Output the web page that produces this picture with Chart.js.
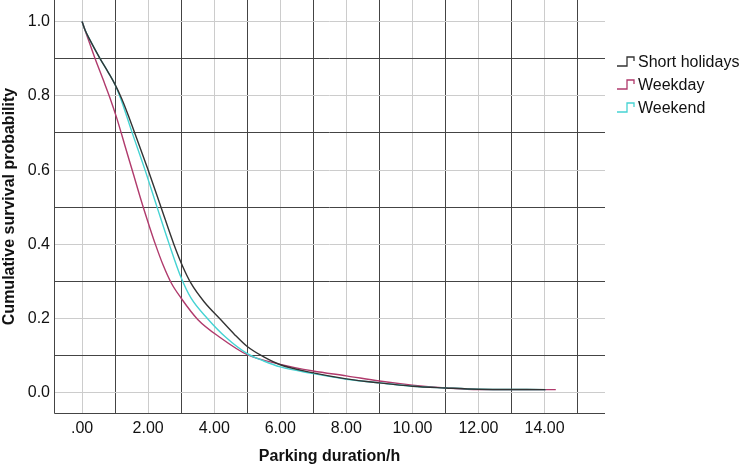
<!DOCTYPE html>
<html>
<head>
<meta charset="utf-8">
<script src="https://cdn.jsdelivr.net/npm/chart.js@4.4.1/dist/chart.umd.min.js"></script>
<style>
  html, body { margin: 0; padding: 0; background: #ffffff; }
  canvas { display: block; }
</style>
</head>
<body>
<canvas id="c" width="745" height="468"></canvas>
<script>
// ---- Data ----
const seriesNames = ['Short holidays', 'Weekday', 'Weekend'];

const shortHolidaysX = [0, 0.09, 0.24, 0.54, 0.80, 1.00, 1.20, 1.40, 1.58, 2.00, 2.39, 2.78, 3.05, 3.30, 3.70, 4.20, 4.60, 5.00, 5.50, 6.00, 7.00, 8.00, 9.00, 10.00, 11.00, 12.00, 14.03];
const shortHolidaysY = [1.0, 0.977, 0.950, 0.901, 0.862, 0.830, 0.792, 0.747, 0.703, 0.600, 0.500, 0.400, 0.340, 0.295, 0.245, 0.197, 0.159, 0.125, 0.097, 0.076, 0.054, 0.038, 0.027, 0.018, 0.0135, 0.010, 0.009];

const weekdayX = [0, 0.14, 0.39, 0.64, 0.85, 1.05, 1.30, 1.55, 1.81, 2.05, 2.22, 2.45, 2.70, 3.00, 3.50, 4.20, 5.00, 6.00, 7.00, 8.00, 9.00, 10.00, 11.00, 12.00, 14.34];
const weekdayY = [1.0, 0.964, 0.901, 0.843, 0.793, 0.740, 0.665, 0.590, 0.512, 0.445, 0.400, 0.345, 0.296, 0.255, 0.198, 0.148, 0.103, 0.077, 0.059, 0.046, 0.032, 0.021, 0.0135, 0.009, 0.009];

const weekendX = [0, 0.09, 0.24, 0.54, 0.80, 1.00, 1.20, 1.50, 1.90, 2.26, 2.64, 3.00, 3.30, 3.80, 4.35, 5.00, 5.50, 6.00, 7.00, 8.00, 9.00, 10.00, 11.00, 12.00, 14.03];
const weekendY = [1.0, 0.977, 0.950, 0.901, 0.862, 0.830, 0.785, 0.705, 0.602, 0.503, 0.400, 0.310, 0.255, 0.200, 0.150, 0.106, 0.086, 0.070, 0.052, 0.037, 0.027, 0.018, 0.0135, 0.010, 0.009];

const xTickValues = [0, 1, 2, 3, 4, 5, 6, 7, 8, 9, 10, 11, 12, 13, 14, 15];
const xTickLabels = ['.00', '', '2.00', '', '4.00', '', '6.00', '', '8.00', '', '10.00', '', '12.00', '', '14.00', ''];
const yTickValues = [0, 0.1, 0.2, 0.3, 0.4, 0.5, 0.6, 0.7, 0.8, 0.9, 1.0];
const yTickLabels = ['0.0', '', '0.2', '', '0.4', '', '0.6', '', '0.8', '', '1.0'];

const xTitle = 'Parking duration/h';
const yTitle = 'Cumulative survival probability';

// ---- Styles ----
const colors = ['#333333', '#b03a6c', '#45d3d3'];
const lightGrid = '#cccccc';
const darkGrid = '#444444';
const axisColor = '#444444';
const FONT = "'Liberation Sans', Arial, sans-serif";

function toPoints(xs, ys) { return xs.map((x, i) => ({ x: x, y: ys[i] })); }

const seriesX = [shortHolidaysX, weekdayX, weekendX];
const seriesY = [shortHolidaysY, weekdayY, weekendY];

const datasets = seriesNames.map((name, i) => ({
  label: name,
  data: toPoints(seriesX[i], seriesY[i]),
  borderColor: colors[i],
  backgroundColor: colors[i],
  borderWidth: 1.4,
  pointRadius: 0,
  showLine: true,
  fill: false,
  cubicInterpolationMode: 'monotone'
}));
datasets[0].order = 1;
datasets[1].order = 3;
datasets[2].order = 2;

function gridColorFor(values) {
  return (ctx) => {
    if (!ctx.tick) return 'rgba(0,0,0,0)';
    const idx = values.findIndex(v => Math.abs(v - ctx.tick.value) < 1e-6);
    if (idx < 0) return 'rgba(0,0,0,0)';
    return idx % 2 === 0 ? lightGrid : darkGrid;
  };
}

// left and bottom axis lines of the plot frame
const axisLines = {
  id: 'axisLines',
  beforeDatasetsDraw(chart) {
    const { ctx, chartArea } = chart;
    ctx.save();
    ctx.strokeStyle = axisColor;
    ctx.lineWidth = 1;
    ctx.beginPath();
    const l = Math.round(chartArea.left) + 0.5;
    const b = Math.round(chartArea.bottom) + 0.5;
    ctx.moveTo(l, chartArea.top);
    ctx.lineTo(l, b);
    ctx.lineTo(chartArea.right, b);
    ctx.stroke();
    ctx.restore();
  }
};

const stepLegend = {
  id: 'stepLegend',
  afterDraw(chart) {
    const ctx = chart.ctx;
    const x0 = chart.chartArea.right + 12;
    const y0 = 63;
    const gap = 23;
    ctx.save();
    chart.data.datasets.forEach((ds, i) => {
      const cy = y0 + i * gap;
      ctx.strokeStyle = ds.borderColor;
      ctx.lineWidth = 1.3;
      ctx.beginPath();
      ctx.moveTo(x0, cy + 3);
      ctx.lineTo(x0 + 10, cy + 3);
      ctx.lineTo(x0 + 10, cy - 6);
      ctx.lineTo(x0 + 17, cy - 6);
      ctx.lineTo(x0 + 17, cy - 2);
      ctx.stroke();
      ctx.fillStyle = '#111111';
      ctx.font = '16px ' + FONT;
      ctx.textBaseline = 'middle';
      ctx.textAlign = 'left';
      ctx.fillText(ds.label, x0 + 21, cy);
    });
    ctx.restore();
  }
};

new Chart(document.getElementById('c'), {
  type: 'scatter',
  data: { datasets: datasets },
  plugins: [axisLines, stepLegend],
  options: {
    responsive: false,
    animation: false,
    layout: { padding: { left: 0, right: 140, top: 0, bottom: 0 } },
    plugins: {
      legend: { display: false },
      tooltip: { enabled: false }
    },
    scales: {
      x: {
        type: 'linear',
        min: -0.85,
        max: 15.83,
        afterBuildTicks: (scale) => { scale.ticks = xTickValues.map(v => ({ value: v })); },
        afterFit: (scale) => {
          scale.height = 55;
          scale.paddingLeft = 0;
          scale.paddingRight = 0;
        },
        ticks: {
          autoSkip: false,
          maxRotation: 0,
          padding: 6,
          color: '#111111',
          font: { family: FONT, size: 16 },
          callback: (v) => {
            const i = xTickValues.findIndex(t => Math.abs(t - v) < 1e-6);
            return i >= 0 ? xTickLabels[i] : '';
          }
        },
        grid: { color: gridColorFor(xTickValues), lineWidth: 1, drawTicks: false },
        border: { display: false },
        title: {
          display: true,
          text: xTitle,
          color: '#111111',
          font: { family: FONT, size: 16, weight: 'bold' },
          padding: { top: 0, bottom: 2 }
        }
      },
      y: {
        type: 'linear',
        min: -0.054,
        max: 1.058,
        afterBuildTicks: (scale) => { scale.ticks = yTickValues.map(v => ({ value: v })); },
        afterFit: (scale) => {
          scale.width = 54;
          scale.paddingTop = 0;
          scale.paddingBottom = 0;
        },
        ticks: {
          autoSkip: false,
          padding: 4,
          color: '#111111',
          font: { family: FONT, size: 16 },
          callback: (v) => {
            const i = yTickValues.findIndex(t => Math.abs(t - v) < 1e-6);
            return i >= 0 ? yTickLabels[i] : '';
          }
        },
        grid: { color: gridColorFor(yTickValues), lineWidth: 1, drawTicks: false },
        border: { display: false },
        title: {
          display: true,
          text: yTitle,
          color: '#111111',
          font: { family: FONT, size: 16, weight: 'bold' },
          padding: { top: 0, bottom: 0 }
        }
      }
    }
  }
});
</script>
</body>
</html>
